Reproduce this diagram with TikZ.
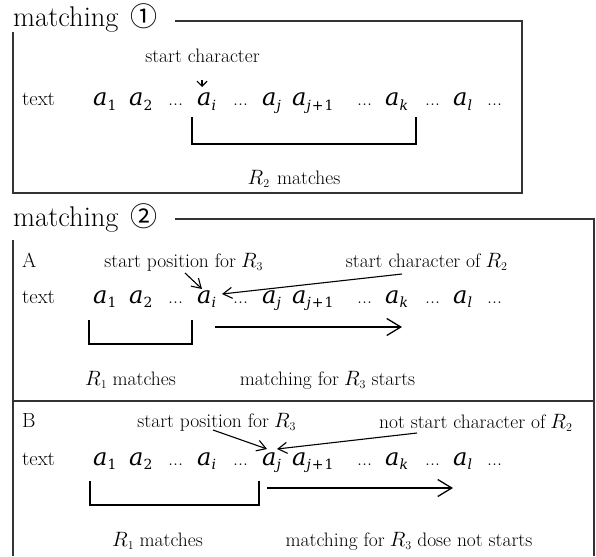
\documentclass[tikz,border=0pt]{standalone}
\usepackage{fontspec}
\newfontfamily\cjk{Noto Sans CJK JP}
\newfontfamily\dvs{DejaVu Serif}
\usetikzlibrary{arrows.meta,calc}
\newcommand\ai[1]{{\dvs\fontsize{24}{24}\selectfont\itshape a}\raisebox{-4.5pt}{\dvs\fontsize{14}{14}\selectfont #1}}
\newcommand\Rs[1]{{$R$}\raisebox{-3.5pt}{\fontsize{12}{12}\selectfont$#1$}}
\newcommand\dts{{\fontsize{20}{20}\selectfont ...}}
\tikzset{
  sym/.style={inner sep=0pt, anchor=base west},
  rowlbl/.style={inner sep=0pt, anchor=base west, font=\fontsize{20.5}{22}\selectfont},
  lbl/.style={inner sep=0pt, anchor=base, font=\fontsize{19.5}{21}\selectfont},
  ttl/.style={inner sep=0pt, anchor=base west, font=\fontsize{28.5}{30}\selectfont},
  frame/.style={line width=1.4pt, draw=black!80},
  brk/.style={line width=1.8pt, line join=miter},
  lblarr/.style={line width=1.1pt, -{Straight Barb[length=9pt,width=11pt]}},
  varr/.style={line width=1.1pt, -{Straight Barb[length=5pt,width=10pt]}},
  longarr/.style={line width=1.3pt, -{Straight Barb[length=14pt,width=17pt]}}
}
\newcommand\seqrow[2]{%
  \node[sym] (#1t) at (22,#2) {\fontsize{20.5}{22}\selectfont text};
  \node[sym] (#1a1) at (93,#2) {\ai{1}};
  \node[sym] (#1a2) at (129,#2) {\ai{2}};
  \node[sym] (#1d1) at (168,#2) {\dts};
  \node[sym] (#1ai) at (197,#2) {\ai{\itshape i}};
  \node[sym] (#1d2) at (233,#2) {\dts};
  \node[sym] (#1aj) at (262,#2) {\ai{\itshape j}};
  \node[sym] (#1aj1) at (292,#2) {\ai{{\itshape j}\kern1pt+\kern1pt1}};
  \node[sym] (#1d3) at (357,#2) {\dts};
  \node[sym] (#1ak) at (385,#2) {\ai{\itshape k}};
  \node[sym] (#1d4) at (425,#2) {\dts};
  \node[sym] (#1al) at (453,#2) {\ai{\itshape l}};
  \node[sym] (#1d5) at (487,#2) {\dts};
}
\begin{document}
\begin{tikzpicture}[x=1pt,y=-1pt]
\useasboundingbox (0,0) rectangle (596,556);
% ---------- matching 1 ----------
\node[ttl] (t1) at (13,27) {matching\hspace{12pt}{\cjk\fontsize{27}{28}\selectfont ①}};
\draw[frame] (175,21) -| (522,193) -| (13,32);
\node[lbl] (sc) at (202.5,63) {start character};
\seqrow{r1}{106}
\draw[varr] ($(sc.base)+(-0.5,17)$) -- ($(r1ai.base west)+(5,-19)$);
\draw[brk] ($(r1ai.base west)+(-5,11)$) |- ($(r1ak.base west)+(31,38)$) -- ($(r1ak.base west)+(31,11)$);
\node[lbl] (m1) at (294,184) {\Rs{2}\hspace{8pt}matches};
% ---------- matching 2 ----------
\node[ttl] (t2) at (13,226) {matching\hspace{12pt}{\cjk\fontsize{27}{28}\selectfont ②}};
\draw[frame] (175,219) -| (594,556);
\draw[frame] (13,240) -- (13,556);
\draw[frame] (13,401) -- (594,401);
% A
\node[rowlbl] (lA) at (22,267) {A};
\node[lbl] (pA) at (183.5,267) {start position for\hspace{5pt}\Rs{3}};
\node[lbl] (cA) at (426.5,267) {start character of\hspace{5pt}\Rs{2}};
\seqrow{r2}{303}
\draw[lblarr] ($(pA.base)+(1.5,6)$) -- ($(r2ai.base west)+(5,-14)$);
\draw[lblarr] ($(cA.base)+(-24.5,7)$) -- ($(r2ai.base west)+(25,-9)$);
\draw[brk] ($(r2a1.base west)+(-4,17)$) |- ($(r2ai.base west)+(-5,41)$) -- ($(r2ai.base west)+(-5,17)$);
\draw[longarr] ($(r2ai.base west)+(18,24)$) -- ($(r2ak.base west)+(17,24)$);
\node[lbl] (mA1) at (130.5,385) {\Rs{1}\hspace{6pt}matches};
\node[lbl] (mA2) at (327.5,385) {matching for\hspace{5pt}\Rs{3}\hspace{6pt}starts};
% B
\node[rowlbl] (lB) at (22,427) {B};
\node[lbl] (pB) at (216.5,427) {start position for\hspace{5pt}\Rs{3}};
\node[lbl] (nB) at (475.5,428) {not start character of\hspace{5pt}\Rs{2}};
\seqrow{r3}{465}
\draw[lblarr] ($(pB.base)+(-3.5,3)$) -- ($(r3aj.base west)+(5,-16)$);
\draw[lblarr] ($(nB.base)+(-58.5,5)$) -- ($(r3aj.base west)+(15,-16)$);
\draw[brk] ($(r3a1.base west)+(-3,16)$) |- ($(r3aj.base west)+(-3,40)$) -- ($(r3aj.base west)+(-3,16)$);
\draw[longarr] ($(r3aj.base west)+(5,23)$) -- ($(r3al.base west)+(0,23)$);
\node[lbl] (mB1) at (157.5,546) {\Rs{1}\hspace{6pt}matches};
\node[lbl] (mB2) at (409,546) {matching for\hspace{5pt}\Rs{3}\hspace{6pt}dose not starts};
\end{tikzpicture}
\end{document}
